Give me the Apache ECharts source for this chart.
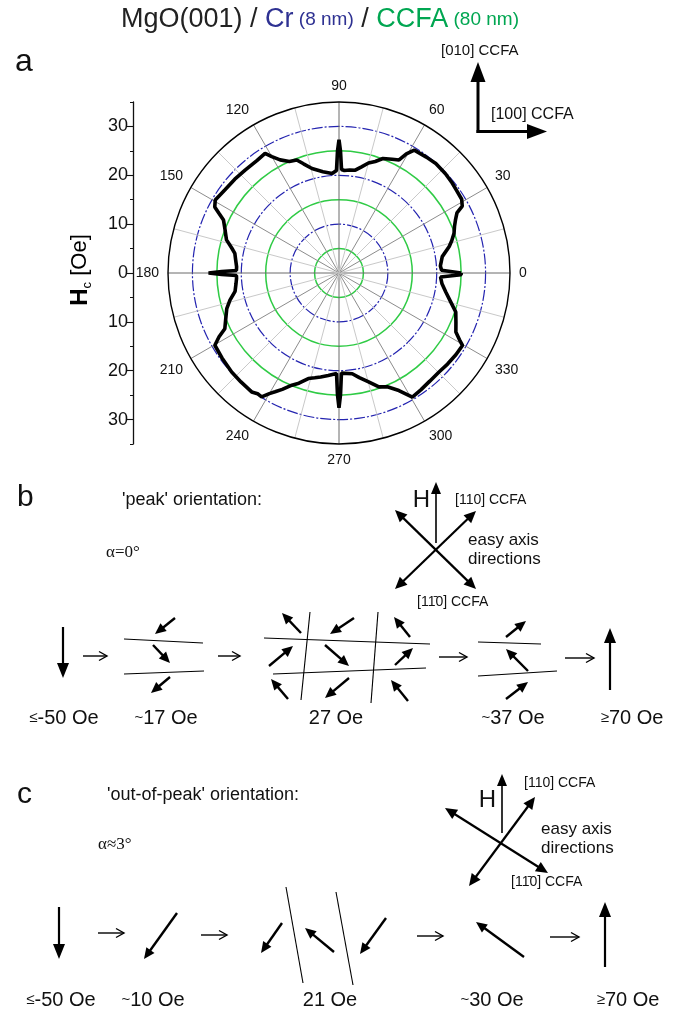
<!DOCTYPE html>
<html><head><meta charset="utf-8">
<script src="https://cdn.jsdelivr.net/npm/echarts@6/dist/echarts.min.js"></script>
<style>html,body{margin:0;padding:0;background:#fff}#c{width:674px;height:1016px}</style>
</head><body><div id="c"></div>
<script>
// ---------- chart data ----------
const hcAngles = [0,0.8,1.5,4,9,13.5,16,19,22,24.5,27,28.5,31,35,38.5,43,48.5,53,58.5,60.5,62,65,69,72,75,78,81,84,87,88.6,89.3,90,90.7,91.4,94,99,104.5,108,110.5,114,117.5,120,121.7,126,132.4,138,144,149.5,152,153.5,155.4,159,163.6,167,169.3,173,176.5,178.6,179.3,180,180.7,181.4,183,186,190,194,197.6,202,206,208,210.2,216,222.7,228,233.7,236,238,240,241.7,244,247.2,250,253.8,257,260,264,268.6,269.3,270,270.7,271.4,272,277.5,281,285,289.3,293,297,300.6,305,310,315.3,320,325,329.6,331,333.2,337,341.5,345,349.9,354,357.7,358.5,359.2,360];
const hcValues = [25.0,25.0,21.0,20.8,21.4,23.2,24.0,24.9,25.5,26.2,27.1,28.7,29.3,29.4,29.6,29.8,29.9,29.7,29.5,28.0,26.2,25.7,25.1,24.0,23.3,22.2,21.3,21.2,21.0,21.2,25.0,27.3,25.0,21.0,20.4,21.0,22.1,23.5,24.7,25.0,26.1,27.5,28.8,28.5,28.5,28.7,28.9,29.4,28.8,27.5,26.0,25.0,24.0,22.5,21.7,21.3,21.0,21.0,24.0,26.7,24.0,21.0,21.0,21.2,21.6,23.0,24.1,25.0,26.0,27.8,29.4,29.6,29.9,30.0,30.2,29.8,29.9,28.5,27.6,26.5,24.9,24.0,22.5,22.0,21.6,21.1,20.6,25.0,27.6,25.0,20.5,20.3,20.8,21.8,23.0,24.7,25.3,27.0,29.5,29.2,28.9,28.8,29.0,29.2,29.3,28.2,26.8,26.0,25.2,23.8,22.2,21.2,20.8,21.0,25.0,25.0];
const angleTickLabels = [0,30,60,90,120,150,180,210,240,270,300,330];
const hcAxisTicks = [-30,-20,-10,0,10,20,30];
const hcAxisMinorTicks = [-35,-25,-15,-5,5,15,25,35];
const peakLabels = ['≤-50 Oe','~17 Oe','27 Oe','~37 Oe','≥70 Oe'];
const outPeakLabels = ['≤-50 Oe','~10 Oe','21 Oe','~30 Oe','≥70 Oe'];

// ---------- schematic geometry (x1,y1,x2,y2,kind) ----------
// kind: 0 wall line, 1 small moment, 2 field state, 3 flow, 4 easy axis, 5 H, 6 crystal axis
const axesSketch = [[478,133,478,62,6],[476.5,131.5,547,131.5,6]];
const peakSketch = [
  [436,543,436,482,5],[395,510,476,589,4],[476,511,395,589,4],
  [63,627,63,678,2],[83,656,107,656,3],
  [124,639,203,643,0],[124,674,204,671,0],
  [175,618,155,634,1],[153,645,170,663,1],[170,677,151,693,1],
  [218,656,240,656,3],
  [264,638,430,644,0],[273,674,426,668,0],[310,612,301,700,0],[378,612,371,703,0],
  [301,633,282,613,1],[354,618,330,634,1],[410,637,394,617,1],
  [269,666,293,646,1],[325,645,349,666,1],[395,665,413,648,1],
  [288,699,271,679,1],[349,678,325,698,1],[408,701,391,680,1],
  [439,657,467,657,3],
  [478,642,541,644,0],[478,676,557,671,0],
  [506,637,526,621,1],[528,671,506,649,1],[506,699,528,682,1],
  [565,658,594,658,3],[610,690,610,628,2]
];
const outPeakSketch = [
  [502,833,502,774,5],[445,808,548,873,4],[469,886,535,797,4],
  [59,907,59,959,2],[98,933,124,933,3],
  [177,913,144,959,1],[201,935,227,935,3],
  [286,887,303,983,0],[336,892,353,985,0],
  [282,923,261,953,1],[334,952,305,928,1],[386,918,360,954,1],
  [417,936,443,936,3],[524,957,476,922,1],[550,937,579,937,3],[605,967,605,902,2]
];

const SANS = '"Liberation Sans", Arial, Helvetica, sans-serif';
const SERIF = '"Liberation Serif", "Times New Roman", serif';
const STY = {
  0:{w:1.1},
  1:{w:2.4,L:11,hw:5,end:true},
  2:{w:2.2,L:15,hw:6,end:true},
  3:{w:1.4,L:8,hw:4.5,open:true},
  4:{w:2.2,L:12,hw:5.5,end:true,start:true},
  5:{w:1.6,L:12,hw:5,end:true},
  6:{w:3,L:20,hw:7.5,end:true}
};
function head(p,ux,uy,L,hw){
  const nx=-uy, ny=ux;
  return {type:'polygon',shape:{points:[[p[0],p[1]],[p[0]-ux*L+nx*hw,p[1]-uy*L+ny*hw],[p[0]-ux*L-nx*hw,p[1]-uy*L-ny*hw]]},style:{fill:'#000'}};
}
function renderArrow(params, api){
  const p1 = api.coord([api.value(0), api.value(1)]);
  const p2 = api.coord([api.value(2), api.value(3)]);
  const st = STY[api.value(4)];
  const dx=p2[0]-p1[0], dy=p2[1]-p1[1], len=Math.hypot(dx,dy), ux=dx/len, uy=dy/len;
  let s=p1.slice(), e=p2.slice();
  const ch=[];
  if (st.end){ e=[p2[0]-ux*st.L*0.7,p2[1]-uy*st.L*0.7]; ch.push(head(p2,ux,uy,st.L,st.hw)); }
  if (st.start){ s=[p1[0]+ux*st.L*0.7,p1[1]+uy*st.L*0.7]; ch.push(head(p1,-ux,-uy,st.L,st.hw)); }
  ch.unshift({type:'line',shape:{x1:s[0],y1:s[1],x2:e[0],y2:e[1]},style:{stroke:'#000',lineWidth:st.w}});
  if (st.open){
    const nx=-uy, ny=ux;
    ch.push({type:'polyline',shape:{points:[[p2[0]-ux*st.L+nx*st.hw,p2[1]-uy*st.L+ny*st.hw],[p2[0],p2[1]],[p2[0]-ux*st.L-nx*st.hw,p2[1]-uy*st.L-ny*st.hw]]},style:{stroke:'#000',lineWidth:st.w,fill:null}});
  }
  return {type:'group',children:ch};
}

function txt(text,x,y,size,opts){
  opts = opts||{};
  return {type:'text', z:50, x:x, y:y, rotation:opts.rotation||0,
    style:Object.assign({text:text,x:0,y:0,font:(opts.weight||'normal')+' '+size+'px '+(opts.family||SANS),fill:opts.fill||'#111',textAlign:opts.align||'left',textVerticalAlign:'middle'}, opts.rich?{rich:opts.rich}:{})};
}
function stateLabel(label,x,y){
  const c = label[0];
  if (c==='≤'||c==='≥'||c==='~'){
    return txt('{s|'+c+'}{n|'+label.slice(1)+'}',x,y,20,{align:'center',rich:{s:{fontSize:15,fontFamily:SANS,fill:'#111'},n:{fontSize:20,fontFamily:SANS,fill:'#111'}}});
  }
  return txt(label,x,y,20,{align:'center'});
}
const peakX = [64,166,336,513,632];
const outPeakX = [61,153,330,492,628];

const graphics = [
  txt('a',15,62,32),
  txt('[010] CCFA',441,51,15),
  txt('[100] CCFA',491,115,16),
  txt('{h|H}{s|c}{n| [Oe]}',80,270,22,{align:'center',rotation:Math.PI/2,rich:{h:{fontSize:24,fontWeight:'bold',fontFamily:SANS,fill:'#000',lineHeight:28},s:{fontSize:13,fontFamily:SANS,fill:'#000',verticalAlign:'bottom',lineHeight:22},n:{fontSize:22,fontFamily:SANS,fill:'#000',lineHeight:28}}}),
  txt('b',17,498,30),
  txt("'peak' orientation:",122,500,18),
  txt('α=0°',106,553,17,{family:SERIF}),
  txt('H',430,500,24,{align:'right'}),
  txt('[110] CCFA',455,500,14),
  txt('easy axis',468,540,17),
  txt('directions',468,559,17),
  txt('[11\u03040] CCFA',417,602,14),
  txt('c',17,795,30),
  txt("'out-of-peak' orientation:",107,795,18),
  txt('α≈3°',98,845,17,{family:SERIF}),
  txt('H',496,800,24,{align:'right'}),
  txt('[110] CCFA',524,783,14),
  txt('easy axis',541,829,17),
  txt('directions',541,848,17),
  txt('[11\u03040] CCFA',511,882,14)
];
peakLabels.forEach((l,i)=>graphics.push(stateLabel(l,peakX[i],718)));
outPeakLabels.forEach((l,i)=>graphics.push(stateLabel(l,outPeakX[i],1000)));

const chart = echarts.init(document.getElementById('c'), null, {renderer:'canvas'});
const T = 'rgba(0,0,0,0)';
const ttl = (size,color)=>({fontSize:size,fontFamily:SANS,color:color,fontWeight:'normal'});
chart.setOption({
  animation:false,
  backgroundColor:'#fff',
  title:{left:116,top:1,text:'{k|MgO(001) / }{b|Cr}{bs| (8 nm)}{k| / }{g|CCFA}{gs| (80 nm)}',
    textStyle:{fontWeight:'normal',rich:{
      k:ttl(27,'#222'), b:ttl(27,'#2e3192'), bs:ttl(19,'#2e3192'), g:ttl(27,'#00a651'), gs:ttl(19,'#00a651')}}},
  polar:[{center:[339,273],radius:171},{center:[339,273],radius:171}],
  angleAxis:[
    {polarIndex:0,type:'value',min:0,max:360,interval:15,startAngle:0,clockwise:false,
     axisLine:{show:true,lineStyle:{color:'#000',width:1.4}},axisTick:{show:false},
     axisLabel:{show:true,margin:9,fontSize:14,fontFamily:SANS,color:'#111',formatter:v=>angleTickLabels.indexOf(v)>=0?String(v):''},
     splitLine:{show:true,lineStyle:{color:['#6a6a6a','#c9c9c9','#8c8c8c','#c9c9c9','#8c8c8c','#c9c9c9'],width:1}}},
    {polarIndex:1,type:'value',min:0,max:360,interval:15,startAngle:0,clockwise:false,
     axisLine:{show:false},axisTick:{show:false},axisLabel:{show:false},splitLine:{show:false}}
  ],
  radiusAxis:[
    {polarIndex:0,type:'value',min:0,max:35,interval:5,axisLine:{show:false},axisTick:{show:false},axisLabel:{show:false},
     splitLine:{show:true,lineStyle:{color:[T,'#2fcb45',T,'#2fcb45',T,'#2fcb45',T,T],width:1.5}}},
    {polarIndex:1,type:'value',min:0,max:35,interval:5,axisLine:{show:false},axisTick:{show:false},axisLabel:{show:false},
     splitLine:{show:true,lineStyle:{color:[T,T,'#2424b0',T,'#2424b0',T,'#2424b0',T],width:1.2,type:[11,2,2,2]}}}
  ],
  grid:[
    {left:133,top:102,width:1,height:342,containLabel:false},
    {left:0,top:0,width:674,height:1016,containLabel:false}
  ],
  xAxis:[
    {gridIndex:0,type:'value',show:false,min:0,max:1},
    {gridIndex:1,type:'value',show:false,min:0,max:674}
  ],
  yAxis:[
    {gridIndex:0,type:'value',min:-35,max:35,interval:5,position:'left',
     axisLine:{show:true,lineStyle:{color:'#111',width:1.3}},
     axisTick:{show:true,length:3,customValues:hcAxisMinorTicks,lineStyle:{color:'#111',width:1}},
     axisLabel:{show:false},splitLine:{show:false}},
    {gridIndex:0,type:'value',min:-35,max:35,interval:5,position:'left',offset:0,
     axisLine:{show:false},
     axisTick:{show:true,length:6,customValues:hcAxisTicks,lineStyle:{color:'#111',width:1.1}},
     axisLabel:{show:true,customValues:hcAxisTicks,margin:5,fontSize:18,fontFamily:SANS,color:'#111',formatter:v=>String(Math.abs(v))},
     splitLine:{show:false}},
    {gridIndex:1,type:'value',show:false,min:0,max:1016,inverse:true}
  ],
  series:[
    {type:'line',coordinateSystem:'polar',polarIndex:0,data:hcAngles.map((a,i)=>[hcValues[i],a]),
     symbol:'none',smooth:false,lineStyle:{color:'#000',width:3.6},z:5,silent:true},
    {type:'custom',coordinateSystem:'cartesian2d',xAxisIndex:1,yAxisIndex:2,renderItem:renderArrow,clip:false,silent:true,
     data:axesSketch.concat(peakSketch,outPeakSketch)}
  ],
  graphic:graphics
});
</script>
</body></html>
